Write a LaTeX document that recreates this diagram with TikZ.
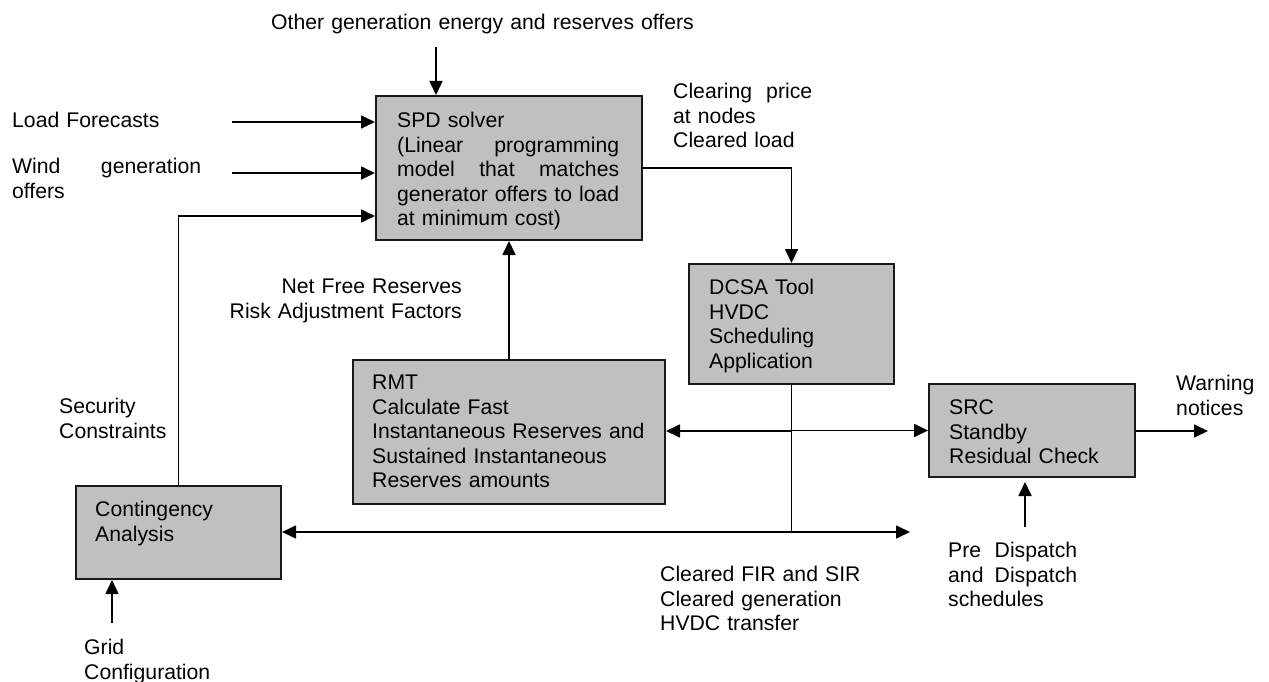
\documentclass[tikz,border=0pt]{standalone}
\usepackage{fontspec}
\setmainfont{Liberation Sans}
\usetikzlibrary{arrows.meta}
\definecolor{boxfill}{HTML}{C0C0C0}
\definecolor{boxline}{HTML}{1A1A1A}
\newcommand{\spreadline}[2]{\leavevmode\makebox[#1][l]{#2}}
\begin{document}
\begin{tikzpicture}[x=1pt,y=-1pt,
  font=\fontsize{21.2pt}{24.5pt}\selectfont,
  blk/.style={draw=boxline,fill=boxfill,line width=2pt,inner sep=0pt,anchor=north west},
  txt/.style={inner sep=0pt,anchor=north west,text width=520pt,align=left,execute at begin node=\strut},
  rtxt/.style={inner sep=0pt,anchor=north east,text width=330pt,align=right,execute at begin node=\strut},
  conn/.style={line width=1.7pt,draw=black},
  arr/.style={conn,-{Triangle[length=14pt,width=13pt]}},
]
\useasboundingbox (0,0) rectangle (1269,682);

% boxes
\node[blk,minimum width=266pt,minimum height=144pt] (spd) at (375,95) {};
\node[blk,minimum width=205pt,minimum height=120pt] (dcsa) at (688,263) {};
\node[blk,minimum width=312pt,minimum height=144pt] (rmt) at (352,359) {};
\node[blk,minimum width=206pt,minimum height=93pt] (src) at (928,383) {};
\node[blk,minimum width=205pt,minimum height=93pt] (cont) at (75,485) {};

% box texts
\node[txt] (spdtxt) at (397,110.3) {SPD solver\\
  \spreadline{222pt}{(Linear\hfill programming}\\
  \spreadline{222pt}{model\hfill that\hfill matches}\\
  \spreadline{222pt}{generator\hfill offers\hfill to\hfill load}\\
  at minimum cost)};
\node[txt] (dcsatxt) at (709,277.3) {DCSA Tool\\HVDC\\Scheduling\\Application};
\node[txt] (rmttxt) at (372,372.3) {RMT\\Calculate Fast\\Instantaneous Reserves and\\Sustained Instantaneous\\Reserves amounts};
\node[txt] (srctxt) at (949,397.3) {SRC\\Standby\\Residual Check};
\node[txt] (conttxt) at (95,499.3) {Contingency\\Analysis};

% free labels
\node[txt] (othertxt) at (271,12.3) {Other generation energy and reserves offers};
\node[txt] (loadtxt) at (12,110.3) {Load Forecasts};
\node[txt] (windtxt) at (12,156.3) {\spreadline{189pt}{Wind\hfill generation}\\offers};
\node[txt] (cleartxt) at (673,81.3) {\spreadline{139pt}{Clearing\hfill price}\\at nodes\\Cleared load};
\node[rtxt] (nfrtxt) at (462,276.3) {Net Free Reserves\\Risk Adjustment Factors};
\node[txt] (sectxt) at (59,396.3) {Security\\Constraints};
\node[txt] (warntxt) at (1176,373.3) {Warning\\notices};
\node[txt] (pretxt) at (948,540.3) {\spreadline{129pt}{Pre\hfill Dispatch}\\\spreadline{129pt}{and\hfill Dispatch}\\schedules};
\node[txt] (firtxt) at (660,564.3) {Cleared FIR and SIR\\Cleared generation\\HVDC transfer};
\node[txt] (gridtxt) at (84,637.3) {Grid\\Configuration};

% helper coordinates
\coordinate (othertail) at (436,47);
\coordinate (loadtail) at (232,122);
\coordinate (windtail) at (232,173);
\coordinate (secy) at (0,216);
\coordinate (juncy) at (0,532);
\coordinate (midy) at (0,431);
\coordinate (clearedend) at (910,532);
\coordinate (warnend) at (1208,431);
\coordinate (pretail) at (1025,527);
\coordinate (gridtail) at (112,623);

\coordinate (junc) at (dcsa.south |- juncy);
\coordinate (mid) at (dcsa.south |- midy);
\coordinate (midr) at (dcsa.south |- src.west);

% connectors
\draw[arr] (othertail) -- (othertail |- spd.north);
\draw[arr] (loadtail) -- (loadtail -| spd.west);
\draw[arr] (windtail) -- (windtail -| spd.west);
\draw[arr] (cont.north) |- (spd.west |- secy);
\draw[arr] (rmt.north) -- (rmt.north |- spd.south);
\draw[arr] (spd.east) -| (dcsa.north);
\draw[conn] (dcsa.south) -- (junc);
\draw[arr] (junc) -- (junc -| cont.east);
\draw[arr] (junc) -- (clearedend);
\draw[arr] (mid) -- (mid -| rmt.east);
\draw[arr] (midr) -- (src.west);
\draw[arr] (src.east |- warnend) -- (warnend);
\draw[arr,shorten >=4pt] (pretail) -- (pretail |- src.south);
\draw[arr] (gridtail) -- (gridtail |- cont.south);
\end{tikzpicture}
\end{document}
